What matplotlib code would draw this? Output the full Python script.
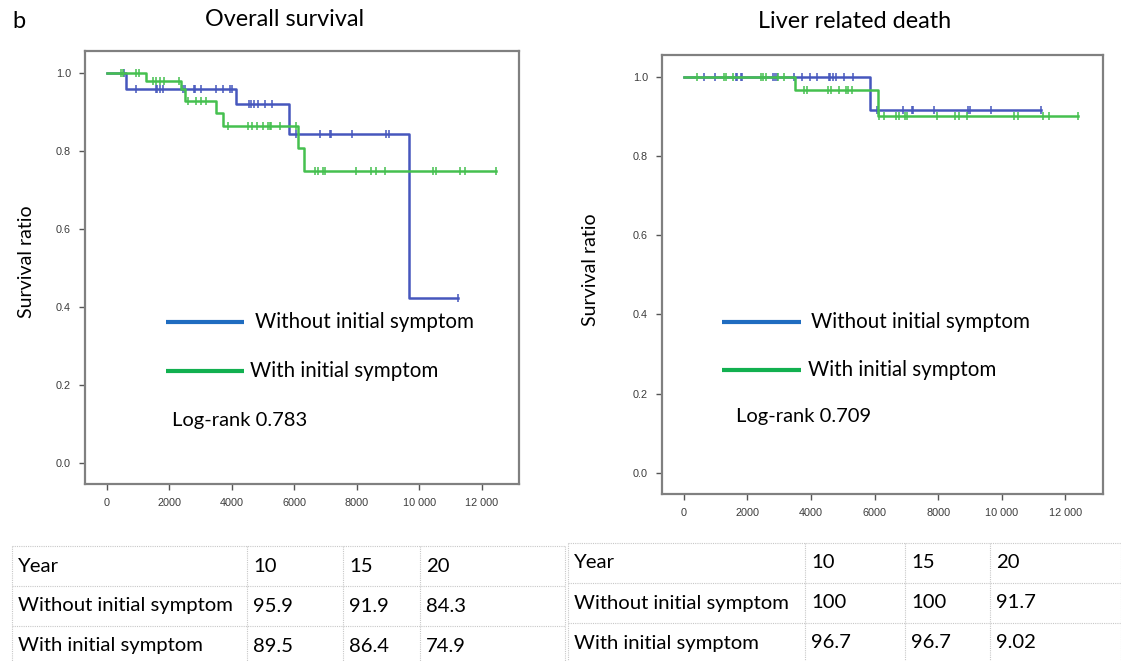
import numpy as np
import matplotlib
matplotlib.use("Agg")
import matplotlib.pyplot as plt
from matplotlib.lines import Line2D

# ---- data ----
# Overall survival (left)
os_without_t = [0, 630, 4150, 5835, 9664, 11232]
os_without_s = [1.0, 0.959, 0.919, 0.843, 0.422, 0.422]
os_without_cens = [544, 950, 1568, 1610, 1696, 1802, 2442, 2496, 2784, 2838, 3030, 3510,
                   3722, 3936, 4022, 4554, 4630, 4704, 4842, 5056, 5302, 6070, 6838, 7136,
                   7190, 7862, 8950, 9034, 11232]
os_with_t = [0, 1248, 2390, 2518, 3488, 3722, 6122, 6304, 12448]
os_with_s = [1.0, 0.979, 0.958, 0.928, 0.897, 0.865, 0.807, 0.749, 0.749]
os_with_cens = [470, 522, 928, 1034, 1482, 1590, 1696, 1824, 2314, 2602, 2870, 3030, 3168,
                3882, 4522, 4662, 4810, 5002, 5162, 5216, 5270, 5536, 6070, 6656, 6762,
                6922, 6976, 7968, 8470, 8630, 8896, 10442, 10528, 11318, 11456, 12448]

# Liver related death (right)
lr_without_t = [0, 5858, 11237]
lr_without_s = [1.0, 0.917, 0.917]
lr_without_cens = [637, 972, 1629, 1682, 1786, 1839, 2810, 2851, 2914, 3456, 3719, 3979,
                   4189, 4553, 4605, 4690, 4793, 5044, 5316, 6068, 6883, 7165, 7215, 7873,
                   8938, 8991, 9671, 11237]
lr_with_t = [0, 3509, 6119, 12416]
lr_with_s = [1.0, 0.967, 0.902, 0.902]
lr_with_cens = [400, 1264, 1327, 1557, 2412, 2497, 2569, 2970, 3160, 3769, 3875, 4521, 4627,
                4866, 5107, 5179, 5285, 6150, 6297, 6673, 6777, 6955, 7008, 7967, 8521,
                8656, 8907, 10401, 10505, 11288, 11476, 12416]

x_ticks = [0, 2000, 4000, 6000, 8000, 10000, 12000]
x_tick_labels = ["0", "2000", "4000", "6000", "8000", "10 000", "12 000"]
y_ticks = [0.0, 0.2, 0.4, 0.6, 0.8, 1.0]

groups = ["Without initial symptom", "With initial symptom"]
years = ["10", "15", "20"]
os_table = [["95.9", "91.9", "84.3"], ["89.5", "86.4", "74.9"]]
lr_table = [["100", "100", "91.7"], ["96.7", "96.7", "9.02"]]
os_logrank = "0.783"
lr_logrank = "0.709"

CURVE_BLUE = "#4657bd"
CURVE_GREEN = "#45c04f"
LEG_BLUE = "#1f6cc0"
LEG_GREEN = "#12b050"
FONT = ["Lato", "DejaVu Sans"]

W, H = 1121, 661
fig = plt.figure(figsize=(W / 100, H / 100), dpi=100)


def px_axes(x0, y0, x1, y1):
    return fig.add_axes([x0 / W, 1 - y1 / H, (x1 - x0) / W, (y1 - y0) / H])


def km(ax, t, s, cens, color):
    t = np.asarray(t, float)
    s = np.asarray(s, float)
    ax.step(t, s, where="post", color=color, lw=1.8)
    c = np.asarray(cens, float)
    cy = s[np.searchsorted(t, c, side="right") - 1]
    ax.plot(c, cy, ls="none", marker="|", ms=5.5, mew=1.1, color=color)


def style(ax):
    ax.set_xlim(-690, 13190)
    ax.set_ylim(-0.054, 1.056)
    ax.set_xticks(x_ticks)
    ax.set_xticklabels(x_tick_labels)
    ax.set_yticks(y_ticks)
    ax.set_yticklabels([f"{v:.1f}" for v in y_ticks])
    for sp in ax.spines.values():
        sp.set_color("#808080")
        sp.set_linewidth(1.6)
    ax.tick_params(direction="out", length=4, width=1, color="#555555",
                   labelsize=7.8, labelcolor="#3c3c3c", pad=6)
    for lab in ax.get_xticklabels() + ax.get_yticklabels():
        lab.set_family(["Liberation Sans", "DejaVu Sans"])


def legend(ax, lx0, lx1, yb, yg, tx_b, tx_g, lr_x, lr_y, lr_text):
    ax.plot([lx0, lx1], [yb, yb], color=LEG_BLUE, lw=3, solid_capstyle="butt")
    ax.plot([lx0, lx1], [yg, yg], color=LEG_GREEN, lw=3, solid_capstyle="butt")
    ax.text(tx_b, yb, groups[0], fontsize=14.8, family=FONT, va="center", ha="left")
    ax.text(tx_g, yg, groups[1], fontsize=14.8, family=FONT, va="center", ha="left")
    ax.text(lr_x, lr_y, "Log-rank " + lr_text, fontsize=14.5, family=FONT, va="center", ha="left")


# left panel
ax1 = px_axes(85, 51, 519, 484)
km(ax1, os_without_t, os_without_s, os_without_cens, CURVE_BLUE)
km(ax1, os_with_t, os_with_s, os_with_cens, CURVE_GREEN)
style(ax1)
legend(ax1, 1888, 4384, 0.3615, 0.2367, 4740, 4598, 2102, 0.110, os_logrank)

# right panel
ax2 = px_axes(662, 55, 1103, 494)
km(ax2, lr_without_t, lr_without_s, lr_without_cens, CURVE_BLUE)
km(ax2, lr_with_t, lr_with_s, lr_with_cens, CURVE_GREEN)
style(ax2)
legend(ax2, 1212, 3687, 0.3806, 0.2583, 4000, 3894, 1629, 0.142, lr_logrank)

# titles and labels
fig.text(12 / W, 1 - 22 / H, "b", fontsize=17, family=FONT, va="center", ha="left")
fig.text(285 / W, 1 - 20 / H, "Overall survival", fontsize=16.8, family=FONT, va="center", ha="center")
fig.text(855 / W, 1 - 22 / H, "Liver related death", fontsize=16.8, family=FONT, va="center", ha="center")
fig.text(27 / W, 1 - 262 / H, "Survival ratio", fontsize=14, family=FONT, rotation=90,
         va="center", ha="center")
fig.text(591 / W, 1 - 270 / H, "Survival ratio", fontsize=14, family=FONT, rotation=90,
         va="center", ha="center")


# tables
def table(cols, rows_y, values):
    grid = dict(color="#c8c8c8", lw=0.8, ls=(0, (1, 1)))
    for y in rows_y:
        fig.add_artist(Line2D([cols[0] / W, cols[-1] / W], [1 - y / H, 1 - y / H], **grid))
    for x in cols:
        fig.add_artist(Line2D([x / W, x / W], [1 - rows_y[0] / H, 0], **grid))
    header = ["Year"] + years
    body = [header] + [[g] + v for g, v in zip(groups, values)]
    for r, row in enumerate(body):
        yc = rows_y[r] + 20
        for c, txt in enumerate(row):
            fig.text((cols[c] + 6) / W, 1 - yc / H, txt, fontsize=14.6, family=FONT,
                     va="center", ha="left")


table([12, 247, 343, 420, 565], [546, 586, 626], os_table)
table([568, 805, 905, 990, 1121], [543, 583, 623], lr_table)

fig.savefig("out.png", dpi=100)
